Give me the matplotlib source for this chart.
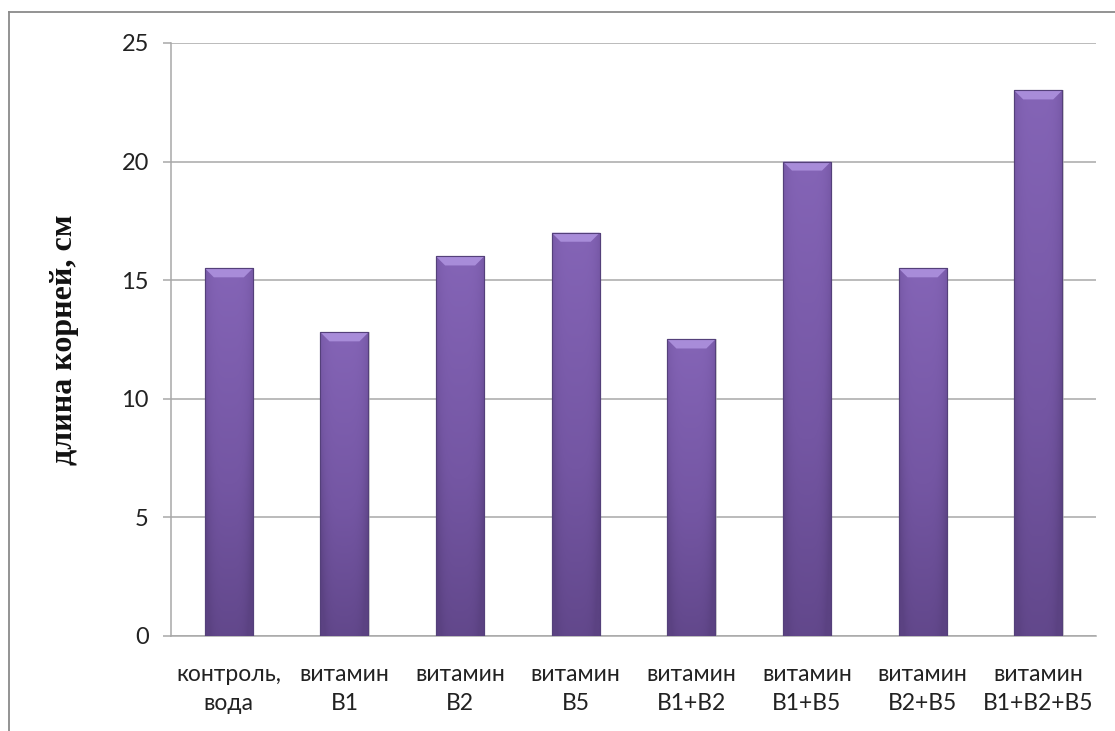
import matplotlib.pyplot as plt
import numpy as np
from matplotlib.colors import LinearSegmentedColormap
from matplotlib.patches import Polygon
from matplotlib.lines import Line2D

# root length by treatment
labels = ['контроль,\nвода', 'витамин\nB1', 'витамин\nB2', 'витамин\nB5',
          'витамин\nB1+B2', 'витамин\nB1+B5', 'витамин\nB2+B5', 'витамин\nB1+B2+B5']
lengths = [15.5, 12.8, 16.0, 17.0, 12.5, 20.0, 15.5, 23.0]
yticks = [0, 5, 10, 15, 20, 25]

fig = plt.figure(figsize=(11.15, 7.31), dpi=100)
ax = fig.add_axes([0.1534, 0.13, 0.8296, 0.8112])

x = np.arange(len(lengths))
bw = 0.415
bars = ax.bar(x, lengths, width=bw, color='#7659a6', edgecolor='#54407a',
              linewidth=0.8, zorder=3)

ax.set_xlim(-0.5, len(lengths) - 0.5)
ax.set_ylim(0, 25)

# purple gradient: lighter top, darker bottom, darker sides
body = LinearSegmentedColormap.from_list('body', ['#5b4282', '#7456a3', '#8464b6'])
ny, nx = 64, 32
gy = np.linspace(0, 1, ny)[:, None]
gx = np.linspace(-1, 1, nx)[None, :]
grad = gy * 0.85 + 0.15 - 0.35 * gx ** 4
grad = np.clip(grad, 0, 1)

px_per_unit = (0.8112 * 731) / 25
px_per_cat = (0.8296 * 1115) / len(lengths)
bev_h = 9 / px_per_unit
bev_w = 9 / px_per_cat

for b in bars:
    x0, w, h = b.get_x(), b.get_width(), b.get_height()
    im = ax.imshow(grad, cmap=body, origin='lower', aspect='auto',
                   extent=(x0, x0 + w, 0, h), zorder=3.5, interpolation='bicubic')
    im.set_clip_path(b)
    # bevelled top cap
    cap = Polygon([(x0, h), (x0 + w, h), (x0 + w - bev_w, h - bev_h),
                   (x0 + bev_w, h - bev_h)], closed=True,
                  facecolor='#a88cd9', edgecolor='none', zorder=4)
    ax.add_patch(cap)
    # soft shadow on the right
    ax.add_patch(plt.Rectangle((x0 + w, 0), 0.012, h, facecolor='#bdbdbd',
                               edgecolor='none', alpha=0.6, zorder=2.5))
    ax.add_patch(plt.Rectangle((x0, 0), w, h, facecolor='none',
                               edgecolor='#54407a', linewidth=0.8, zorder=4.5))

ax.set_yticks(yticks)
ax.set_xticks(x)
ax.set_xticklabels(labels, family='Lato', fontsize=16.5, color='#222222',
                   linespacing=1.5)
for t in ax.get_yticklabels():
    t.set_family('Lato')
    t.set_fontsize(17)
    t.set_color('#222222')

ax.grid(axis='y', color='#a8a8a8', linewidth=1.1, zorder=0)
ax.set_axisbelow(True)
for s in ['top', 'right']:
    ax.spines[s].set_visible(False)
ax.spines['left'].set_color('#a8a8a8')
ax.spines['bottom'].set_color('#a8a8a8')
ax.spines['left'].set_linewidth(1.1)
ax.spines['bottom'].set_linewidth(1.1)
ax.tick_params(axis='y', length=6, width=1.1, color='#a8a8a8', pad=10)
ax.tick_params(axis='x', length=0, pad=20)

fig.text(0.058, 0.535, 'длина корней, см', rotation=90, ha='center', va='center',
         family='Liberation Serif', fontweight='bold', fontsize=23, color='#111111')

# chart frame
fig.add_artist(Line2D([9 / 1115, 9 / 1115], [1 - 12 / 731, 0], color='#8a8a8a',
                      linewidth=1.3, transform=fig.transFigure))
fig.add_artist(Line2D([9 / 1115, 1], [1 - 12 / 731, 1 - 12 / 731], color='#8a8a8a',
                      linewidth=1.3, transform=fig.transFigure))

fig.savefig('out.png', dpi=100)
